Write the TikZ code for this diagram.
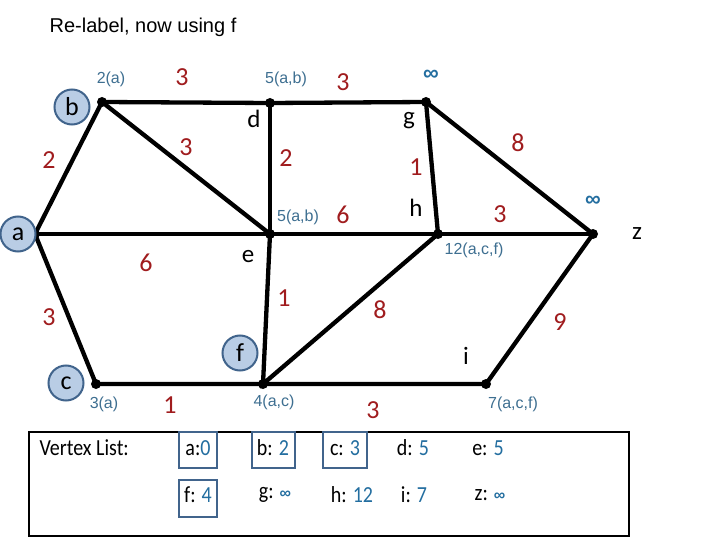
\documentclass[tikz,border=0pt]{standalone}
\usepackage{fontspec}
\setmainfont{Carlito}
\newfontfamily\arialf{Liberation Sans}
\newfontfamily\condf[FakeStretch=0.87]{Carlito}
\definecolor{wred}{RGB}{160,28,30}
\definecolor{lblue}{RGB}{62,111,145}
\definecolor{nblue}{RGB}{35,110,160}
\definecolor{cfill}{RGB}{185,205,229}
\definecolor{cedge}{RGB}{65,100,140}
\begin{document}
\begin{tikzpicture}[x=1pt,y=-1pt,
 dot/.style={circle,fill=black,inner sep=0pt,minimum size=10pt},
 edge/.style={line width=4.3pt},
 wt/.style={text=wred,font=\fontsize{26}{26}\selectfont},
 lab/.style={text=lblue,font=\arialf\fontsize{16}{16}\selectfont},
 vname/.style={font=\fontsize{25}{25}\selectfont},
 vcirc/.style={circle,draw=cedge,line width=2pt,fill=cfill,minimum size=35pt,inner sep=0pt,font=\fontsize{26}{26}\selectfont},
 inf/.style={text=nblue,font=\arialf\bfseries\fontsize{22}{22}\selectfont},
 entry/.style={font=\condf\fontsize{23}{23}\selectfont},
 ebox/.style={draw=cedge,line width=2.2pt,minimum height=36pt,inner sep=0pt}]
\useasboundingbox (0,0) rectangle (720,540);
\fill[white] (0,0) rectangle (720,540);
\node[font=\arialf\fontsize{20}{20}\selectfont] (title) at (143,27) {Re-label, now using f};
% vertex dots
\coordinate (b) at (102,102);
\coordinate (d) at (270,103);
\coordinate (g) at (426,102);
\coordinate (a) at (35,234);
\coordinate (e) at (270,234);
\coordinate (h) at (438,234);
\coordinate (z) at (593,234);
\coordinate (c) at (96,384);
\coordinate (f) at (263,384);
\coordinate (i) at (486,384);
% edges
\draw[edge] (b) -- (d) -- (g);
\draw[edge] (a) -- (b) -- (e);
\draw[edge] (d) -- (e);
\draw[edge] (a) -- (e) -- (h) -- (z);
\draw[edge] (g) -- (h);
\draw[edge] (g) -- (z);
\draw[edge] (a) -- (c) -- (f) -- (i) -- (z);
\draw[edge] (e) -- (f) -- (h);
\foreach \v in {a,b,c,d,e,f,g,h,i,z} \node[dot] (dot\v) at (\v) {};
% circled names
\node[vcirc] (cb) at (72,107) {b};
\node[vcirc] (ca) at (18,234) {a};
\node[vcirc] (cc) at (66,383) {c};
\node[vcirc] (cf) at (240,353) {f};
% plain names
\node[vname] (nd) at (254,119) {d};
\node[vname] (ng) at (409,121) {g};
\node[vname] (nh) at (416,208) {h};
\node[vname] (ne) at (248,257) {e};
\node[vname] (nz) at (637,234) {z};
\node[vname] (ni) at (466,356) {i};
% weights
\node[wt] (w1) at (182,77) {3};
\node[wt] (w2) at (343,82) {3};
\node[wt] (w3) at (49,160) {2};
\node[wt] (w4) at (186,147) {3};
\node[wt] (w5) at (286,158) {2};
\node[wt] (w6) at (416,167) {1};
\node[wt] (w7) at (518,143) {8};
\node[wt] (w8) at (343,215) {6};
\node[wt] (w9) at (500,214) {3};
\node[wt] (w10) at (146,263) {6};
\node[wt] (w11) at (284,298) {1};
\node[wt] (w12) at (380,310) {8};
\node[wt] (w13) at (49,317) {3};
\node[wt] (w14) at (560,322) {9};
\node[wt] (w15) at (170,405) {1};
\node[wt] (w16) at (373,410) {3};
% distance labels
\node[lab] (l1) at (111,79) {2(a)};
\node[lab] (l2) at (286,79) {5(a,b)};
\node[lab] (l3) at (298,217) {5(a,b)};
\node[lab] (l4) at (474,250) {12(a,c,f)};
\node[lab] (l5) at (104,404) {3(a)};
\node[lab] (l6) at (274,402) {4(a,c)};
\node[lab] (l7) at (513,404) {7(a,c,f)};
\node[inf] (l8) at (431,75) {∞};
\node[inf] (l9) at (593,201) {∞};
% vertex list
\draw[line width=2.6pt] (29,432) rectangle (629,536);
\node[entry,anchor=west] (vl) at (36,448) {Vertex List:};
\node[ebox,minimum width=38pt] (ba) at (198,450) {};
\node[ebox,minimum width=43pt] (bb) at (273.5,450) {};
\node[ebox,minimum width=44pt] (bc) at (345,450) {};
\node[ebox,minimum width=38pt,minimum height=37pt] (bf) at (198,498.5) {};
\node[entry] (ea) at (198,448) {a:\textcolor{nblue}{0}};
\node[entry] (eb) at (273,448) {b: \textcolor{nblue}{2}};
\node[entry] (ec) at (345,448) {c: \textcolor{nblue}{3}};
\node[entry] (ed) at (413,448) {d: \textcolor{nblue}{5}};
\node[entry] (ee) at (488,448) {e: \textcolor{nblue}{5}};
\node[entry] (ef) at (198,495) {f: \textcolor{nblue}{4}};
\node[entry] (eg) at (275,495) {g: \textcolor{nblue}{\arialf\bfseries\fontsize{16}{16}\selectfont ∞}};
\node[entry] (eh) at (352,495) {h: \textcolor{nblue}{12}};
\node[entry] (ei) at (414,495) {i: \textcolor{nblue}{7}};
\node[entry] (ez) at (490,495) {z: \textcolor{nblue}{\arialf\bfseries\fontsize{16}{16}\selectfont ∞}};
\end{tikzpicture}
\end{document}
